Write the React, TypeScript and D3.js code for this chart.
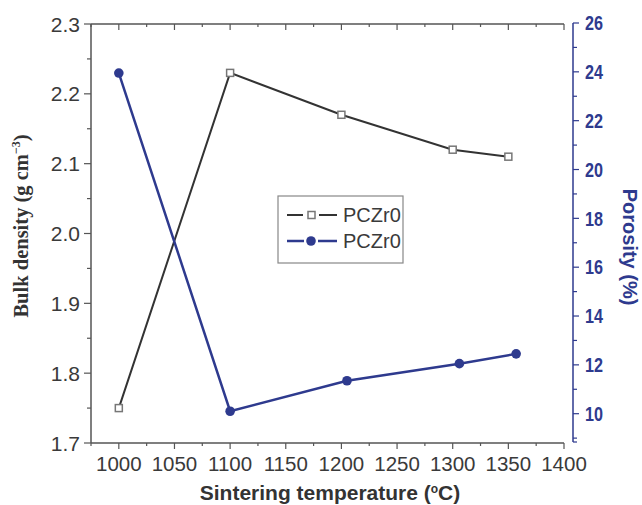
import React from "react";
import * as d3 from "d3";

const temps = [1000, 1100, 1200, 1300, 1350];
const density = [1.75, 2.23, 2.17, 2.12, 2.11];
const porosityTemps = [1000, 1100, 1205, 1306, 1357];
const porosity = [23.95, 10.1, 11.35, 12.05, 12.45];
const xTicks = [1000, 1050, 1100, 1150, 1200, 1250, 1300, 1350, 1400];
const leftTicks = [1.7, 1.8, 1.9, 2.0, 2.1, 2.2, 2.3];
const rightTicks = [10, 12, 14, 16, 18, 20, 22, 24, 26];
const legendLabels = ["PCZr0", "PCZr0"];

const W = 642, H = 505;
const L = 91, R = 564, T = 24, B = 443;
const RA = 573;
const BLUE = "#2e3a8e";
const AX = "#555";
const TXT = "#3a3a3a";

export default function App() {
  const x = d3.scaleLinear().domain([975, 1400]).range([L, R]);
  const yL = d3.scaleLinear().domain([1.7, 2.3]).range([B, T]);
  const yR = d3.scaleLinear().domain([8.8, 26]).range([B, T - 1]);

  const minorX = d3.range(975, 1401, 25);
  const minorL = d3.range(1.7, 2.301, 0.05);
  const minorR = d3.range(9, 26.01, 1);

  const dLine = d3.line<number>().x((_, i) => x(temps[i])).y((d) => yL(d));
  const pLine = d3.line<number>().x((_, i) => x(porosityTemps[i])).y((d) => yR(d));

  const sans = "Liberation Sans, Arial, sans-serif";

  return (
    <svg width={W} height={H} style={{ position: "absolute", left: 0, top: 0, background: "#fff" }}>
      <rect width={W} height={H} fill="#fff" />
      {/* frame */}
      <line x1={L} x2={R} y1={T} y2={T} stroke={AX} strokeWidth={1.5} />
      <line x1={L} x2={R} y1={B} y2={B} stroke={AX} strokeWidth={1.5} />
      <line x1={L} x2={L} y1={T} y2={B} stroke={AX} strokeWidth={1.5} />
      {/* x ticks */}
      {minorX.map((v, i) => {
        const major = Math.round(v) % 50 === 0;
        return (
          <g key={"xt" + i}>
            <line x1={x(v)} x2={x(v)} y1={B} y2={B + (major ? 6 : 3)} stroke={AX} strokeWidth={1.2} />
            <line x1={x(v)} x2={x(v)} y1={T} y2={T + (major ? 6 : 3)} stroke={AX} strokeWidth={1.2} />
          </g>
        );
      })}
      {xTicks.map((v) => (
        <text key={"xl" + v} x={x(v)} y={471} textAnchor="middle" fontFamily={sans} fontSize={20.5} fill={TXT}>
          {v}
        </text>
      ))}
      {/* left ticks */}
      {minorL.map((v, i) => (
        <line key={"lt" + i} x1={L} x2={L - (i % 2 === 0 ? 7 : 4)} y1={yL(v)} y2={yL(v)} stroke={AX} strokeWidth={1.2} />
      ))}
      {leftTicks.map((v) => (
        <text key={"ll" + v} x={80} y={yL(v)} dy="0.36em" textAnchor="end" fontFamily={sans} fontSize={21} fill={TXT}>
          {v.toFixed(1)}
        </text>
      ))}
      {/* right axis */}
      <line x1={RA} x2={RA} y1={yR(26)} y2={B - 1} stroke={BLUE} strokeWidth={1.5} />
      {minorR.map((v, i) => (
        <line key={"rt" + i} x1={RA} x2={RA + (v % 2 === 0 ? 6 : 4)} y1={yR(v)} y2={yR(v)} stroke={BLUE} strokeWidth={1.2} />
      ))}
      <line x1={RA} x2={RA + 4} y1={B - 1} y2={B - 1} stroke={BLUE} strokeWidth={1.2} />
      {rightTicks.map((v) => (
        <text key={"rl" + v} x={585} y={yR(v)} dy="0.36em" textAnchor="start" fontFamily={sans} fontSize={20} fontWeight="bold" fill={BLUE} textLength={18} lengthAdjust="spacingAndGlyphs">
          {v}
        </text>
      ))}
      {/* series */}
      <path d={dLine(density) || ""} fill="none" stroke="#333" strokeWidth={2} />
      {density.map((d, i) => (
        <rect key={"sq" + i} x={x(temps[i]) - 3.5} y={yL(d) - 3.5} width={7} height={7} fill="#fff" stroke="#777" strokeWidth={1.5} />
      ))}
      <path d={pLine(porosity) || ""} fill="none" stroke={BLUE} strokeWidth={2.5} />
      {porosity.map((d, i) => (
        <circle key={"ci" + i} cx={x(porosityTemps[i])} cy={yR(d)} r={4.8} fill={BLUE} />
      ))}
      {/* legend */}
      <rect x={278} y={196} width={125} height={67} fill="#fff" stroke="#888" strokeWidth={1.2} />
      <line x1={287} x2={303} y1={215} y2={215} stroke="#333" strokeWidth={2} />
      <line x1={319} x2={337} y1={215} y2={215} stroke="#333" strokeWidth={2} />
      <rect x={308} y={211.5} width={7} height={7} fill="#fff" stroke="#777" strokeWidth={1.5} />
      <line x1={287} x2={304} y1={241} y2={241} stroke={BLUE} strokeWidth={2.5} />
      <line x1={318} x2={337} y1={241} y2={241} stroke={BLUE} strokeWidth={2.5} />
      <circle cx={311} cy={241} r={4.8} fill={BLUE} />
      {legendLabels.map((t, i) => (
        <text key={"lg" + i} x={343} y={215 + 26 * i} dy="0.36em" fontFamily={sans} fontSize={20} fill={TXT}>
          {t}
        </text>
      ))}
      {/* axis titles */}
      <text transform="translate(28,226) rotate(-90)" textAnchor="middle" fontFamily="Liberation Serif, Times New Roman, serif" fontWeight="bold" fontSize={20.5} fill="#333">
        Bulk density (g cm<tspan dy={-8} fontSize={12}>−3</tspan><tspan dy={8}>)</tspan>
      </text>
      <text transform="translate(623,247) rotate(90)" textAnchor="middle" fontFamily={sans} fontWeight="bold" fontSize={20} fill={BLUE}>
        Porosity (%)
      </text>
      <text x={330} y={500} textAnchor="middle" fontFamily={sans} fontWeight="bold" fontSize={21} fill="#333">
        Sintering temperature (<tspan dy={-7} fontSize={12}>o</tspan><tspan dy={7}>C)</tspan>
      </text>
    </svg>
  );
}
